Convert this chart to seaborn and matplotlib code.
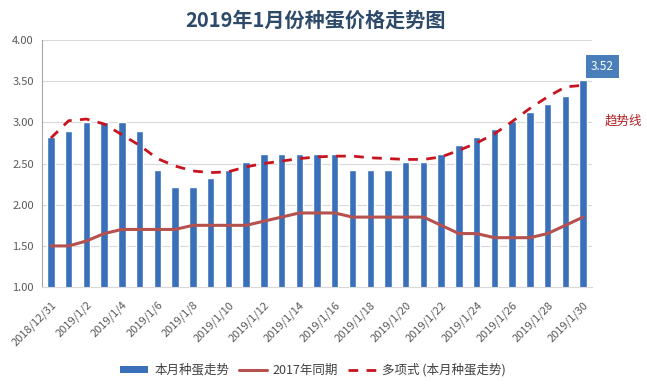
import numpy as np
import pandas as pd
import matplotlib
matplotlib.use("Agg")
import matplotlib.pyplot as plt
import seaborn as sns
from matplotlib.lines import Line2D
from matplotlib.patches import Patch

dates = ["2018/12/31"] + [f"2019/1/{d}" for d in range(1, 31)]
price_2019 = [2.82, 2.90, 3.00, 3.00, 3.00, 2.90, 2.42, 2.22, 2.22, 2.32,
              2.42, 2.52, 2.62, 2.62, 2.62, 2.62, 2.62, 2.42, 2.42, 2.42,
              2.52, 2.52, 2.62, 2.72, 2.82, 2.92, 3.02, 3.12, 3.22, 3.32, 3.52]
price_2017 = [1.50, 1.50, 1.56, 1.65, 1.70, 1.70, 1.70, 1.70, 1.75, 1.75,
              1.75, 1.75, 1.80, 1.85, 1.90, 1.90, 1.90, 1.85, 1.85, 1.85,
              1.85, 1.85, 1.75, 1.65, 1.65, 1.60, 1.60, 1.60, 1.65, 1.75, 1.85]
trend = [2.81, 3.02, 3.04, 2.98, 2.85, 2.72, 2.56, 2.47, 2.41, 2.39,
         2.40, 2.46, 2.50, 2.53, 2.56, 2.58, 2.59, 2.59, 2.57, 2.56,
         2.55, 2.55, 2.58, 2.66, 2.75, 2.86, 3.01, 3.17, 3.31, 3.43, 3.45]
yticks = [1.00, 1.50, 2.00, 2.50, 3.00, 3.50, 4.00]

sns.set_theme(style="white")
plt.rcParams['font.family'] = ['Noto Sans CJK SC', 'DejaVu Sans']
plt.rcParams['axes.unicode_minus'] = False

df = pd.DataFrame({"date": dates, "p2019": price_2019, "p2017": price_2017,
                   "trend": trend, "pos": np.arange(len(dates))})

fig = plt.figure(figsize=(6.47, 3.88), dpi=100)
ax = fig.add_axes([0.065, 0.26, 0.85, 0.637])

bar_color = "#3A70BA"
line17_color = "#B5514E"
trend_color = "#C8141E"

sns.barplot(data=df, x="pos", y="p2019", color=bar_color, width=0.42,
            saturation=1, ax=ax, zorder=2, native_scale=True)
sns.lineplot(data=df, x="pos", y="p2017", color=line17_color, lw=2.2,
             ax=ax, zorder=3)
sns.lineplot(data=df, x="pos", y="trend", color=trend_color, lw=2.0,
             ax=ax, zorder=4, dashes=False)
ax.lines[-1].set_dashes((3.5, 3))

ax.set_xlim(-0.5, len(dates) - 0.5)
ax.set_ylim(1.0, 4.0)
ax.set_yticks(yticks)
ax.set_yticklabels([f"{v:.2f}" for v in yticks], fontsize=8, color="#595959")
ax.set_xticks(df["pos"][::2])
ax.set_xticklabels(df["date"][::2], rotation=45, ha="right",
                   rotation_mode="anchor", fontsize=8, color="#595959")
ax.tick_params(axis="x", length=0, pad=9)
ax.tick_params(axis="y", length=0, pad=6)
ax.set_xlabel("")
ax.set_ylabel("")
ax.grid(axis="y", color="#D9D9D9", lw=0.8, zorder=0)
ax.set_axisbelow(True)
for s in ["top", "right"]:
    ax.spines[s].set_visible(False)
ax.spines["left"].set_color("#A6A6A6")
ax.spines["left"].set_linewidth(0.8)
ax.spines["bottom"].set_color("#D9D9D9")
ax.spines["bottom"].set_linewidth(0.8)

fig.text(0.487, 0.947, "2019年1月份种蛋价格走势图", ha="center", va="center",
         fontsize=14.5, fontweight="bold", color="#2E4A6B")

# data label for last bar
ax.annotate(f"{price_2019[-1]:.2f}", xy=(df["pos"].iloc[-1], price_2019[-1]),
            xytext=(14, 9.5), textcoords="offset points", ha="center", va="center",
            fontsize=8.5, color="white",
            bbox=dict(boxstyle="square,pad=0.4", fc="#4A7EBB", ec="none"))

fig.text(0.935, 0.688, "趋势线", ha="left", va="center", fontsize=9,
         color="#B01E23")

handles = [Patch(facecolor=bar_color, edgecolor="none"),
           Line2D([0], [0], color=line17_color, lw=2.2),
           Line2D([0], [0], color=trend_color, lw=2.0, dashes=(3.5, 3))]
labels = ["本月种蛋走势", "2017年同期", "多项式 (本月种蛋走势)"]
fig.legend(handles, labels, loc="center", bbox_to_anchor=(0.484, 0.046),
           ncol=3, frameon=False, fontsize=9, handlelength=2.2,
           handleheight=0.5, columnspacing=0.8, handletextpad=0.5,
           labelcolor="#404040")

fig.savefig("out.png", dpi=100)
